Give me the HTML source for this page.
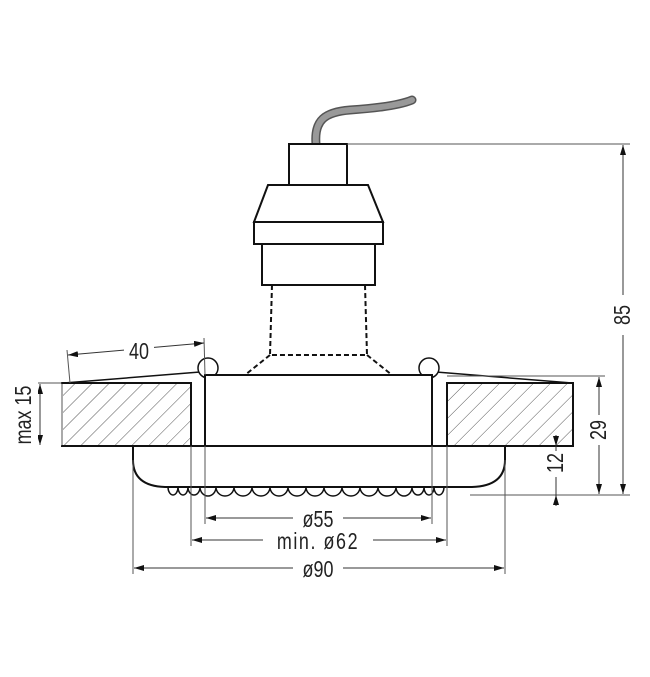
<!DOCTYPE html>
<html><head><meta charset="utf-8"><style>
html,body{margin:0;padding:0;background:#fff;width:650px;height:677px;overflow:hidden}
text{font-family:"Liberation Sans Narrow","Liberation Sans",sans-serif;fill:#222}
</style></head><body>
<svg width="650" height="677" viewBox="0 0 650 677" xmlns="http://www.w3.org/2000/svg">
<defs>
<pattern id="h" width="12" height="12" patternUnits="userSpaceOnUse" patternTransform="rotate(45)">
<line x1="0" y1="0" x2="0" y2="12" stroke="#444" stroke-width="0.9"/></pattern>
<marker id="a" viewBox="0 0 10 6" refX="10" refY="3" markerWidth="10" markerHeight="6" orient="auto-start-reverse" markerUnits="userSpaceOnUse">
<path d="M0,0 L10,3 L0,6 z" fill="#111"/></marker>
</defs>
<path d="M316,144 C314,120 325,112 350,110 C380,108 400,105 412,100" fill="none" stroke="#555" stroke-width="9" stroke-linecap="round"/>
<path d="M316,144 C314,120 325,112 350,110 C380,108 400,105 412,100" fill="none" stroke="#999" stroke-width="6" stroke-linecap="round"/>
<g stroke="#111" stroke-width="2" fill="#fff">
<rect x="289" y="144" width="58" height="41"/>
<path d="M268,185 L368,185 L383,222 L254,222 Z"/>
<rect x="254" y="222" width="129" height="22"/>
<rect x="262" y="244" width="113" height="41"/>
</g>
<g stroke="#111" stroke-width="2" fill="none" stroke-dasharray="5,3">
<path d="M272,285 L270,355 L367,355 L365,285"/>
<path d="M270,355 L245,375 M367,355 L392,375"/>
</g>
<g stroke="#111" stroke-width="2">
<rect x="62" y="383" width="129" height="63" fill="url(#h)"/>
<rect x="447" y="383" width="126" height="63" fill="url(#h)"/>
</g>
<rect x="58" y="384" width="5" height="61" fill="#fff"/>
<line x1="62" y1="384" x2="62" y2="446" stroke="#555" stroke-width="1"/>
<g stroke="#111" stroke-width="1.5" fill="#fff">
<line x1="64" y1="383" x2="200" y2="372"/>
<line x1="572" y1="383" x2="436" y2="372"/>
<circle cx="208" cy="368" r="10"/>
<circle cx="429" cy="368" r="10"/>
</g>
<path d="M133,446 L133,460 Q133,486 165,487 L472,487 Q505,486 505,460 L505,446" fill="#fff" stroke="#111" stroke-width="2"/>
<g fill="none" stroke="#111" stroke-width="1.5">
<path d="M168,487 a5,8 0 0 0 10,0 a5,8 0 0 0 10,0 a6,8 0 0 0 12,0 a8,9 0 0 0 16,0 a9,9 0 0 0 18,0 a9,9 0 0 0 18,0 a9,9 0 0 0 18,0 a9,9 0 0 0 18,0 a9,9 0 0 0 18,0 a9,9 0 0 0 18,0 a9,9 0 0 0 18,0 a9,9 0 0 0 18,0 a9,9 0 0 0 18,0 a9,9 0 0 0 18,0 a8,9 0 0 0 16,0 a6,8 0 0 0 12,0 a5,8 0 0 0 10,0 a5,8 0 0 0 10,0"/>
</g>
<rect x="205" y="375" width="227" height="71" fill="#fff" stroke="#111" stroke-width="2"/>
<line x1="62" y1="446" x2="573" y2="446" stroke="#111" stroke-width="2"/>
<g stroke="#555" stroke-width="1" fill="none">
<line x1="347" y1="144" x2="630" y2="144"/>
<line x1="470" y1="495" x2="630" y2="495"/>
<line x1="447" y1="376" x2="605" y2="376"/>
<line x1="70" y1="383" x2="67" y2="350"/>
<line x1="205" y1="375" x2="204" y2="338"/>
<line x1="30" y1="383" x2="62" y2="383"/>
<line x1="205" y1="446" x2="205" y2="524"/><line x1="432" y1="446" x2="432" y2="524"/>
<line x1="191" y1="446" x2="191" y2="546"/><line x1="447" y1="446" x2="447" y2="546"/>
<line x1="133" y1="460" x2="133" y2="574"/><line x1="505" y1="460" x2="505" y2="574"/>
</g>
<g stroke="#333" stroke-width="1" marker-start="url(#a)" marker-end="url(#a)">
<line x1="623" y1="145" x2="623" y2="494"/>
<line x1="599" y1="377" x2="599" y2="494"/>
<line x1="40" y1="384" x2="40" y2="445"/>
<line x1="206" y1="518" x2="431" y2="518"/>
<line x1="192" y1="540" x2="446" y2="540"/>
<line x1="134" y1="568" x2="504" y2="568"/>
<line x1="68" y1="355" x2="204" y2="343"/>
</g>
<g stroke="#333" stroke-width="1" marker-end="url(#a)">
<line x1="556" y1="435" x2="556" y2="446"/>
<line x1="556" y1="506" x2="556" y2="495"/>
</g>
<line x1="556" y1="446" x2="556" y2="495" stroke="#333"/>
<g fill="#fff">
<rect x="605" y="295" width="36" height="40"/>
<rect x="582" y="415" width="34" height="30"/>
<rect x="540" y="451" width="32" height="26"/>
<rect x="10" y="378" width="28" height="74"/>
<rect x="293" y="507" width="50" height="22"/>
<rect x="263" y="529" width="110" height="22"/>
<rect x="293" y="557" width="50" height="22"/>
<rect x="124" y="337" width="30" height="24"/>
</g>
<g font-size="23">
<text transform="translate(623 315) rotate(-90) scale(0.78 1)" text-anchor="middle" dominant-baseline="central">85</text>
<text transform="translate(599 430) rotate(-90) scale(0.78 1)" text-anchor="middle" dominant-baseline="central">29</text>
<text transform="translate(556 463) rotate(-90) scale(0.78 1)" text-anchor="middle" dominant-baseline="central">12</text>
<text transform="translate(24 415) rotate(-90) scale(0.78 1)" text-anchor="middle" dominant-baseline="central">max 15</text>
<text transform="translate(139 359) scale(0.78 1)" text-anchor="middle">40</text>
<text transform="translate(318 527) scale(0.78 1)" text-anchor="middle">ø55</text>
<text transform="translate(318 549) scale(0.78 1)" text-anchor="middle" letter-spacing="2">min. ø62</text>
<text transform="translate(318 577) scale(0.78 1)" text-anchor="middle">ø90</text>
</g>
</svg>
</body></html>
